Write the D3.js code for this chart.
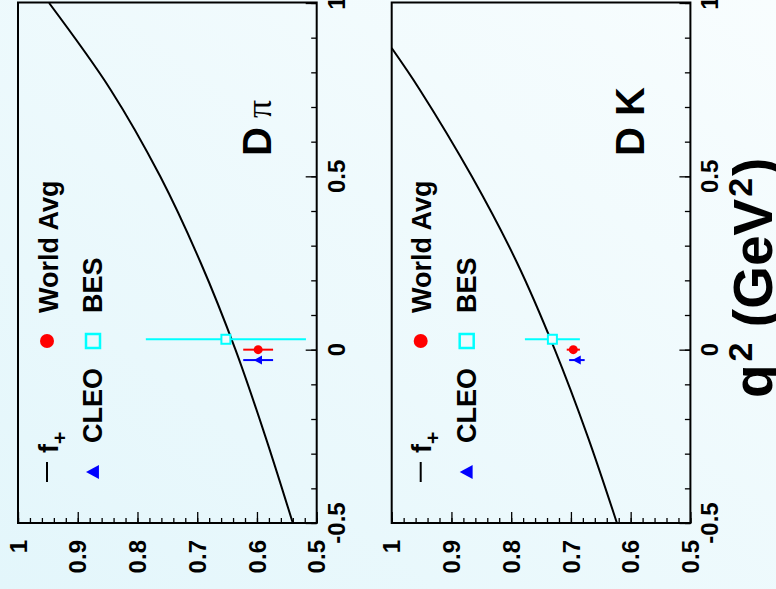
<!DOCTYPE html>
<html>
<head>
<meta charset="utf-8">
<script src="https://cdn.jsdelivr.net/npm/d3@7"></script>
<style>
body { margin: 0; }
svg { display: block; font-family: "Liberation Sans", Arial, sans-serif; font-weight: bold; }
</style>
</head>
<body>
<svg id="chart" width="776" height="589"></svg>
<script>
// f+(q^2) curves
var qPi = [-0.5, -0.25, 0, 0.25, 0.5, 0.75, 1.0];
var fPi = [0.540, 0.586, 0.636, 0.694, 0.762, 0.845, 0.948];
var qK = [-0.5, -0.25, 0, 0.25, 0.5, 0.75, 0.87];
var fK = [0.623, 0.672, 0.727, 0.790, 0.866, 0.953, 1.0];

// measurements at q^2 = 0 (drawn a bit apart in q^2)
var expNames = ["World Avg", "CLEO", "BES"];
var expQ2 = [0, -0.03, 0.03];
var piVal = [0.598, 0.598, 0.652];
var piErr = [0.025, 0.025, 0.134];
var kVal = [0.696, 0.690, 0.731];
var kErr = [0.011, 0.013, 0.046];

var fLabels = ["1", "0.9", "0.8", "0.7", "0.6", "0.5"];
var qLabels = ["-0.5", "0", "0.5", "1"];

var svg = d3.select("#chart");
var W = 776, H = 589;

var defs = svg.append("defs");
var grad = defs.append("linearGradient").attr("id", "bg")
    .attr("x1", 0).attr("y1", 1).attr("x2", 1).attr("y2", 0);
grad.append("stop").attr("offset", 0).attr("stop-color", "#e3f6fb");
grad.append("stop").attr("offset", 1).attr("stop-color", "#f8fdfe");
svg.append("rect").attr("width", W).attr("height", H).attr("fill", "url(#bg)");

var panels = [
    { left: 18, q: qPi, f: fPi, val: piVal, err: piErr, name: "D", greek: "\u03c0" },
    { left: 391.7, q: qK, f: fK, val: kVal, err: kErr, name: "D K", greek: null }
];

var yTop = 3, yBottom = 523, pw = 298.7;
var colors = ["#ff0000", "#0000ff", "#00ffff"];

function triangle(cx, cy, s) {
    // upright triangle of the original, which points left after the rotation
    return "M" + (cx - s) + "," + cy + "L" + (cx + s * 0.85) + "," + (cy - s) +
        "L" + (cx + s * 0.85) + "," + (cy + s) + "Z";
}

panels.forEach(function (p, pi) {
    var x = d3.scaleLinear().domain([1, 0.5]).range([p.left, p.left + pw]);
    var y = d3.scaleLinear().domain([-0.5, 1]).range([yBottom, yTop]);
    var g = svg.append("g");

    defs.append("clipPath").attr("id", "clip" + pi)
        .append("rect").attr("x", p.left).attr("y", yTop)
        .attr("width", pw).attr("height", yBottom - yTop);

    // bottom axis (f+), ticks inward
    g.append("g").attr("transform", "translate(0," + yBottom + ")")
        .call(d3.axisTop(x).ticks(20).tickSize(5).tickFormat(""))
        .call(function (a) { a.select(".domain").remove(); });
    g.append("g").attr("transform", "translate(0," + yBottom + ")")
        .call(d3.axisTop(x).ticks(5).tickSize(11).tickFormat(""))
        .call(function (a) { a.select(".domain").remove(); });

    // right axis (q^2), ticks inward
    g.append("g").attr("transform", "translate(" + (p.left + pw) + ",0)")
        .call(d3.axisLeft(y).ticks(15).tickSize(5.5).tickFormat(""))
        .call(function (a) { a.select(".domain").remove(); });
    g.append("g").attr("transform", "translate(" + (p.left + pw) + ",0)")
        .call(d3.axisLeft(y).ticks(3).tickSize(11).tickFormat(""))
        .call(function (a) { a.select(".domain").remove(); });
    g.selectAll(".tick line").attr("stroke", "#000").attr("stroke-width", 1.3);

    g.selectAll(".flab").data(fLabels).enter().append("text")
        .attr("transform", function (d) { return "translate(" + (x(+d) + 8.6) + ",540) rotate(-90)"; })
        .attr("text-anchor", "end")
        .attr("font-size", 24)
        .text(function (d) { return d; });

    g.selectAll(".qlab").data(qLabels).enter().append("text")
        .attr("transform", function (d) { return "translate(" + (p.left + pw + 28) + "," + y(+d) + ") rotate(-90)"; })
        .attr("text-anchor", "middle")
        .attr("font-size", 24)
        .text(function (d) { return d; });

    // f+ curve
    var line = d3.line()
        .x(function (d, i) { return x(p.f[i]); })
        .y(function (d) { return y(d); })
        .curve(d3.curveCatmullRom);
    g.append("path").datum(p.q)
        .attr("clip-path", "url(#clip" + pi + ")")
        .attr("d", line)
        .attr("fill", "none").attr("stroke", "#000").attr("stroke-width", 2);

    // error bars
    expNames.forEach(function (n, i) {
        g.append("line")
            .attr("x1", x(p.val[i] + p.err[i])).attr("x2", x(p.val[i] - p.err[i]))
            .attr("y1", y(expQ2[i])).attr("y2", y(expQ2[i]))
            .attr("stroke", colors[i]).attr("stroke-width", 2);
    });
    var cx, cy;
    cx = x(p.val[0]); cy = y(expQ2[0]);
    g.append("circle").attr("cx", cx).attr("cy", cy).attr("r", 4.5).attr("fill", colors[0]);
    cx = x(p.val[1]); cy = y(expQ2[1]);
    g.append("path").attr("d", triangle(cx, cy, 4.5)).attr("fill", colors[1]);
    cx = x(p.val[2]); cy = y(expQ2[2]);
    g.append("rect").attr("x", cx - 4.5).attr("y", cy - 4.5).attr("width", 9).attr("height", 9)
        .attr("fill", "#f2fbfd").attr("stroke", colors[2]).attr("stroke-width", 2);

    // frame
    g.append("rect").attr("x", p.left).attr("y", yTop - 0.5)
        .attr("width", pw).attr("height", yBottom - yTop + 0.5)
        .attr("fill", "none").attr("stroke", "#000").attr("stroke-width", 2);

    // legend
    var lx = p.left + 29;
    g.append("line").attr("x1", lx).attr("x2", lx).attr("y1", 462).attr("y2", 482)
        .attr("stroke", "#000").attr("stroke-width", 2);
    var ft = g.append("text").attr("transform", "translate(" + (lx + 10.5) + ",453) rotate(-90)")
        .attr("font-size", 27);
    ft.append("tspan").text("f");
    ft.append("tspan").attr("dy", 9).attr("font-size", 21).text("+");
    g.append("circle").attr("cx", lx).attr("cy", 341).attr("r", 7).attr("fill", colors[0]);
    g.append("text").attr("transform", "translate(" + (lx + 10.5) + ",313) rotate(-90)")
        .attr("font-size", 27).text(expNames[0]);

    var lx2 = p.left + 75;
    g.append("path").attr("d", triangle(lx2, 472, 7)).attr("fill", colors[1]);
    g.append("text").attr("transform", "translate(" + (lx2 + 9) + ",443) rotate(-90)")
        .attr("font-size", 27).text(expNames[1]);
    g.append("rect").attr("x", lx2 - 7).attr("y", 334).attr("width", 14).attr("height", 14)
        .attr("fill", "none").attr("stroke", colors[2]).attr("stroke-width", 2.5);
    g.append("text").attr("transform", "translate(" + (lx2 + 9) + ",313) rotate(-90)")
        .attr("font-size", 27).text(expNames[2]);

    // panel label
    var lab = g.append("text")
        .attr("transform", "translate(" + (p.left + pw - 46) + ",156) rotate(-90)")
        .attr("font-size", 40).text(p.name);
    if (p.greek) {
        lab.append("tspan").attr("font-family", "Liberation Serif, DejaVu Serif, serif")
            .attr("font-weight", "normal").attr("font-size", 36)
            .text(" " + p.greek);
    }
});

// q^2 axis title, runs off the right edge as in the original
var tt = svg.append("text").attr("transform", "translate(772,398) rotate(-90)")
    .attr("font-size", 55);
tt.append("tspan").text("q");
tt.append("tspan").attr("dx", 3).attr("dy", -20).attr("font-size", 34).text("2");
tt.append("tspan").attr("dy", 20).text(" (GeV");
tt.append("tspan").attr("dx", 2).attr("dy", -20).attr("font-size", 34).text("2");
tt.append("tspan").attr("dx", 2).attr("dy", 20).text(")");
</script>
</body>
</html>
